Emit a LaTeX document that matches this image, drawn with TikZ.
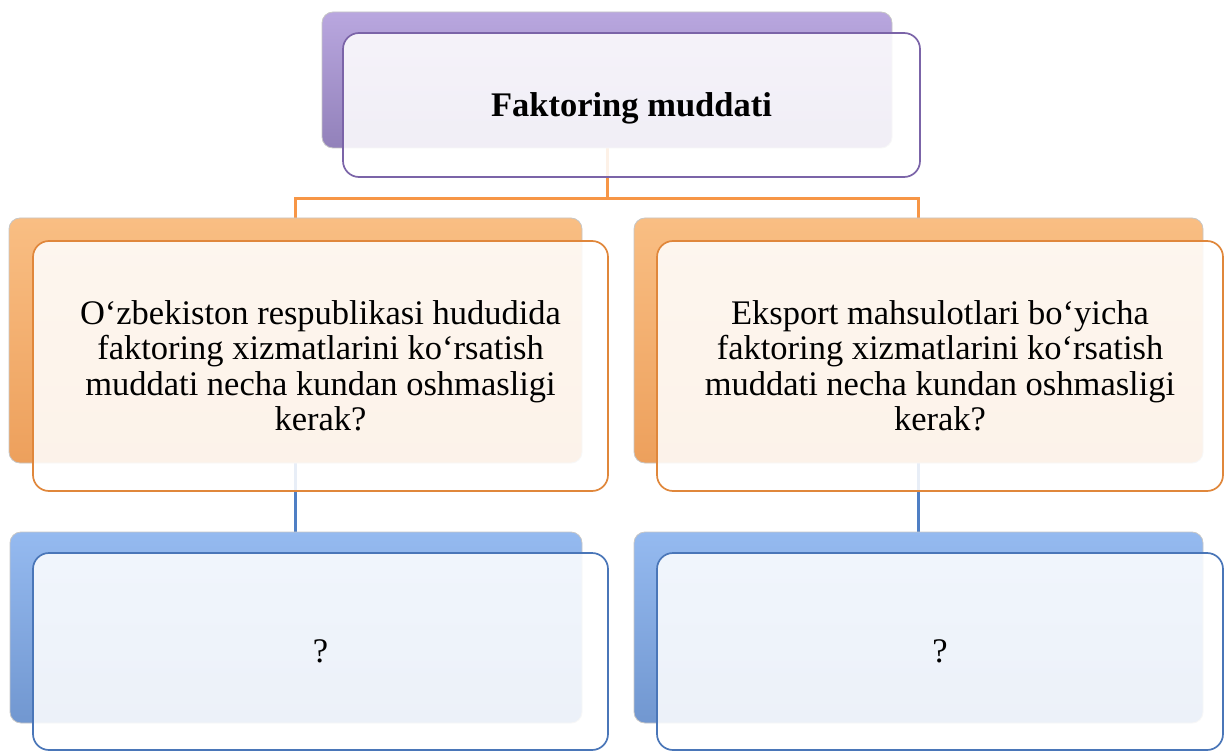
\documentclass[tikz,border=0pt]{standalone}
\usepackage{fontspec}
\setmainfont{Liberation Serif}
\usetikzlibrary{backgrounds}
\definecolor{purL}{HTML}{B9A7DF}
\definecolor{purD}{HTML}{9281BA}
\definecolor{purB}{HTML}{7B64A8}
\definecolor{orL}{HTML}{F9BE83}
\definecolor{orD}{HTML}{EDA05C}
\definecolor{orB}{HTML}{E0873B}
\definecolor{orC}{HTML}{F79646}
\definecolor{blL}{HTML}{95BAF0}
\definecolor{blD}{HTML}{7197D0}
\definecolor{blB}{HTML}{4A76B8}
\definecolor{blC}{HTML}{4F7FC4}
\tikzset{
  backbox/.style={rectangle, rounded corners=11pt, draw=gray!45, line width=0.8pt, inner sep=0pt},
  frontbox/.style={rectangle, rounded corners=16pt, fill=white, fill opacity=0.87, text opacity=1, line width=1.7pt, inner sep=0pt, align=center, font=\fontsize{34.5}{35.5}\selectfont},
  conn/.style={line width=3pt},
}
\begin{document}
\begin{tikzpicture}[x=1pt,y=-1pt]
\useasboundingbox (0,0) rectangle (1225,751);
% back boxes
\node[backbox, top color=purL, bottom color=purD, minimum width=570pt, minimum height=136pt] (tb) at (607,80) {};
\node[backbox, top color=orL, bottom color=orD, minimum width=573pt, minimum height=245pt] (lb) at (295.5,340.5) {};
\node[backbox, top color=orL, bottom color=orD, minimum width=569pt, minimum height=245pt] (rb) at (918.5,340.5) {};
\node[backbox, top color=blL, bottom color=blD, minimum width=572pt, minimum height=191pt] (lbb) at (296,627.5) {};
\node[backbox, top color=blL, bottom color=blD, minimum width=569pt, minimum height=191pt] (rbb) at (918.5,627.5) {};
% front boxes
\node[frontbox, draw=purB, minimum width=577pt, minimum height=144pt] (tf) at (631.5,105) {\raisebox{-12pt}[0pt][0pt]{\textbf{Faktoring muddati}}};
\node[frontbox, draw=orB, minimum width=575pt, minimum height=250pt] (lf) at (320.5,366) {O‘zbekiston respublikasi hududida\\faktoring xizmatlarini ko‘rsatish\\muddati necha kundan oshmasligi\\kerak?};
\node[frontbox, draw=orB, minimum width=566pt, minimum height=250pt] (rf) at (940,366) {Eksport mahsulotlari bo‘yicha\\faktoring xizmatlarini ko‘rsatish\\muddati necha kundan oshmasligi\\kerak?};
\node[frontbox, draw=blB, minimum width=575pt, minimum height=197pt] (lbf) at (320.5,651.5) {?};
\node[frontbox, draw=blB, minimum width=566pt, minimum height=197pt] (rbf) at (940,651.5) {?};
% connectors
\begin{scope}[on background layer]
\draw[conn, orC] (tb.south) -- ++(0,50) coordinate (j1) -| (lb.north);
\draw[conn, orC] (j1) -| (rb.north);
\draw[conn, blC] (lb.south) -- (lb.south |- lbb.north);
\draw[conn, blC] (rb.south) -- (rb.south |- rbb.north);
\end{scope}
\end{tikzpicture}
\end{document}
